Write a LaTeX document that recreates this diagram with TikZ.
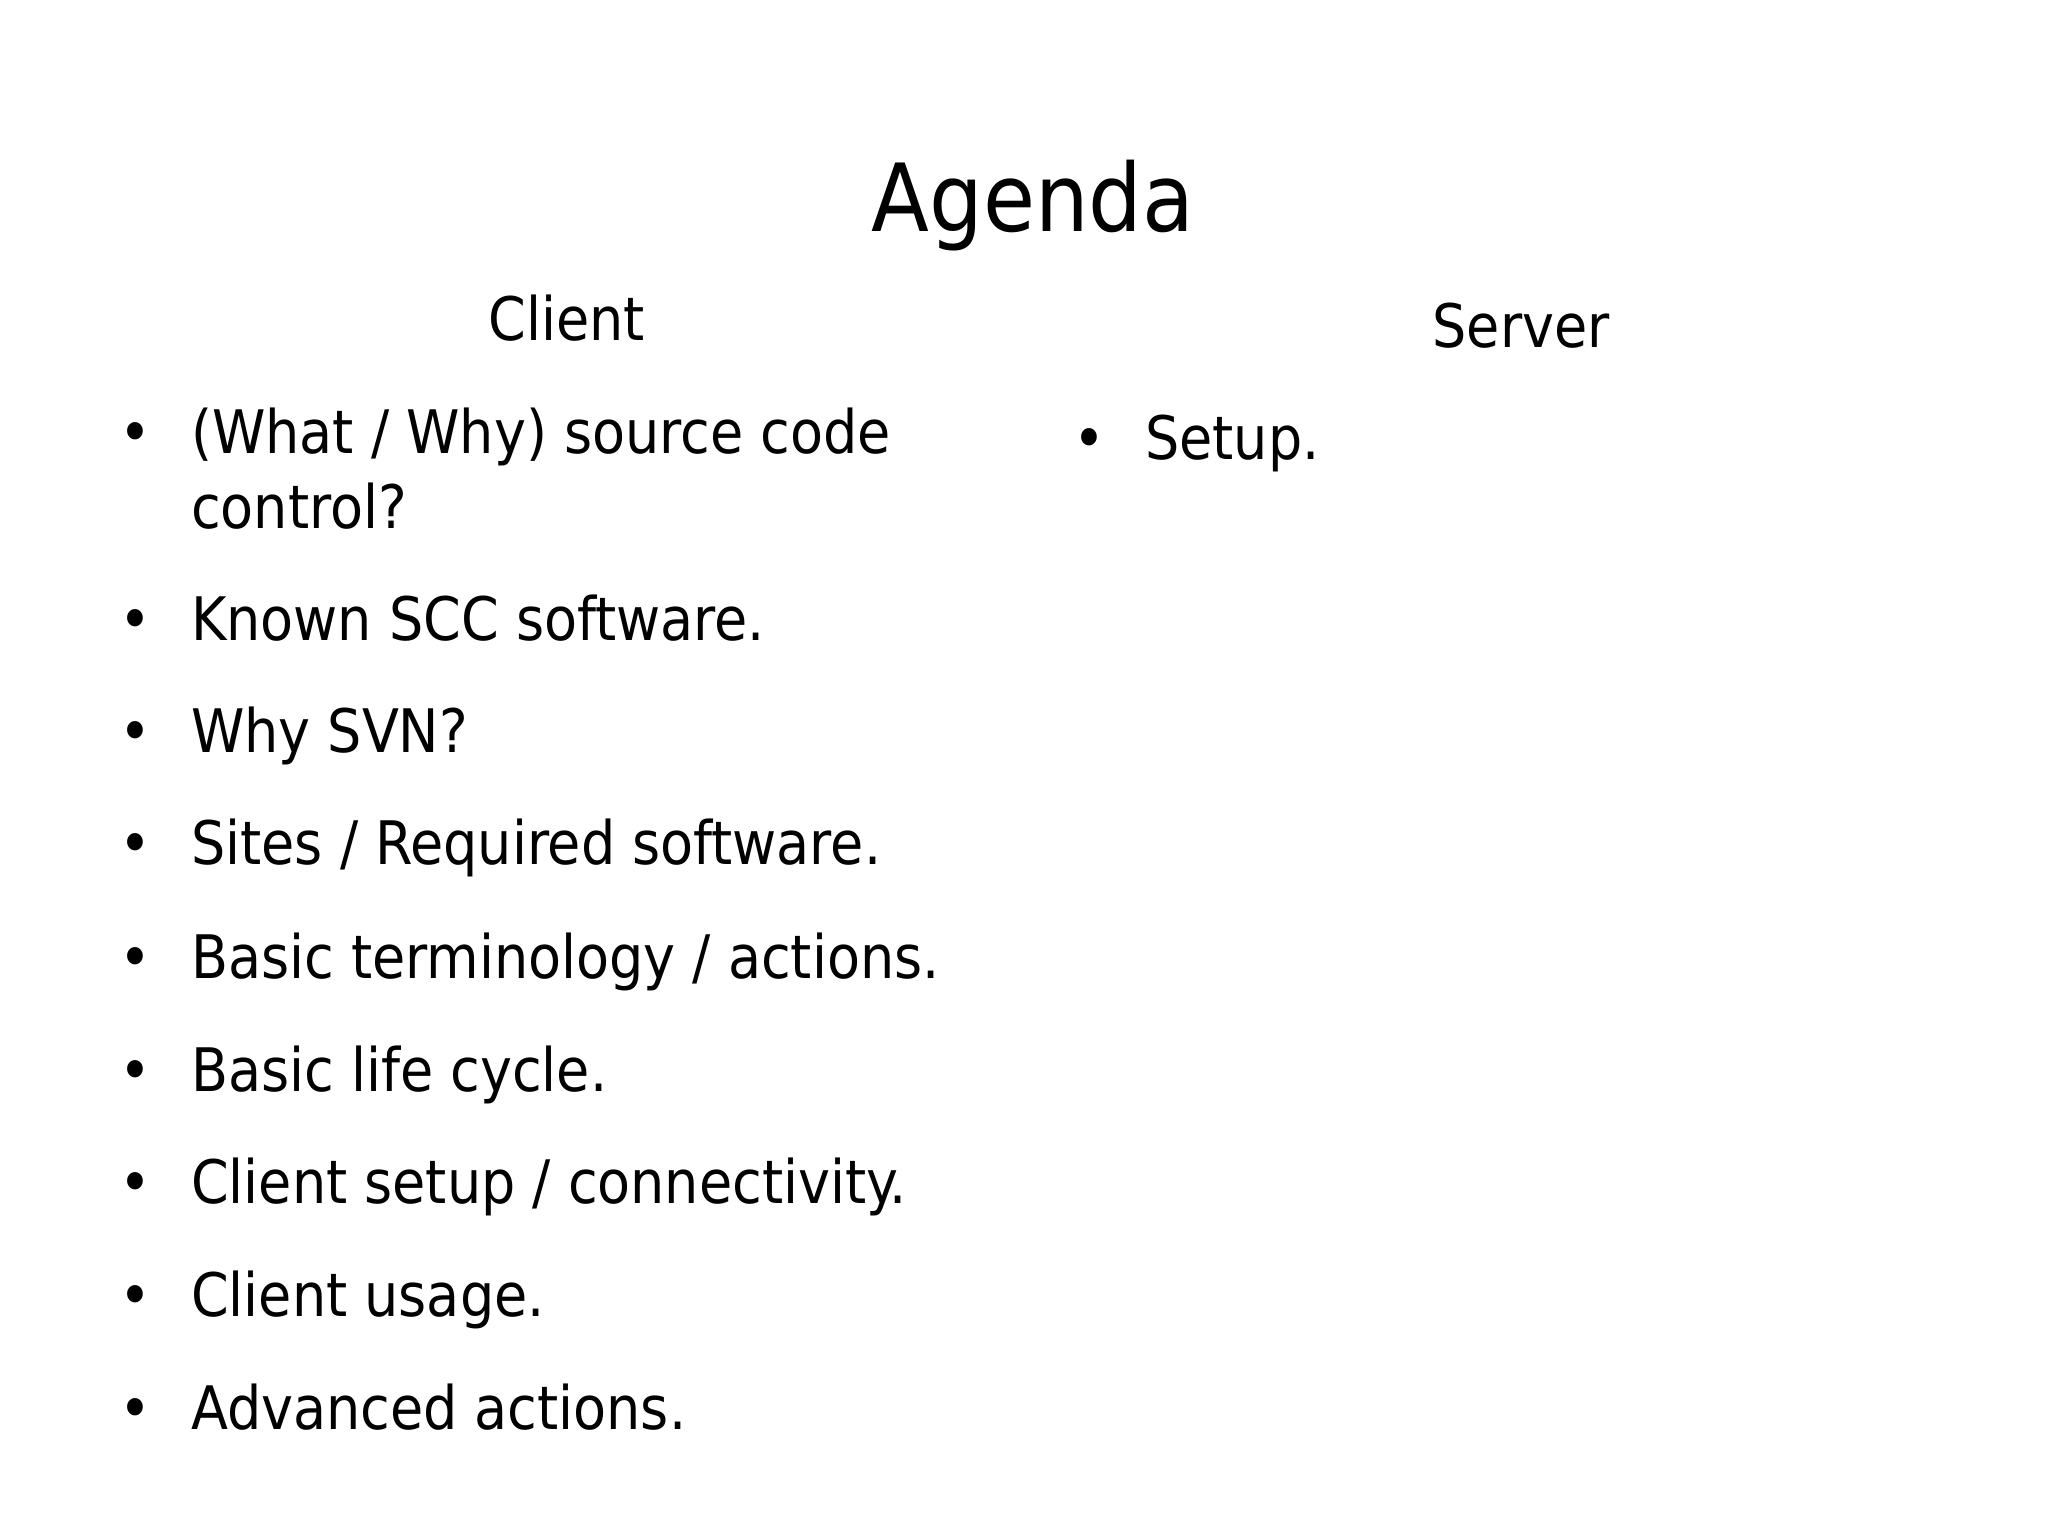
\documentclass[tikz,border=0pt]{standalone}
\usepackage{fontspec}
\setmainfont{DejaVu Sans Condensed}
\begin{document}
\begin{tikzpicture}[x=1pt,y=-1pt,
  txt/.style={anchor=base west,inner sep=0pt,font=\fontsize{60}{72}\selectfont},
  bul/.style={anchor=base,inner sep=0pt,font=\fontsize{60}{72}\selectfont},
  head/.style={anchor=base,inner sep=0pt,font=\fontsize{60}{72}\selectfont}]
\useasboundingbox (0,0) rectangle (2048,1535);
\node[anchor=base,inner sep=0pt,font=\fontsize{94}{110}\selectfont] (title) at (1033,231) {Agenda};
\node[head] (client) at (567,340) {Client};
\node[head] (server) at (1521,347) {Server};
\foreach \n/\y/\t in {1/453/{(What / Why) source code},3/640/{Known SCC software.},4/752/{Why SVN?},5/864/{Sites / Required software.},6/978/{Basic terminology / actions.},7/1091/{Basic life cycle.},8/1203/{Client setup / connectivity.},9/1316/{Client usage.},10/1429/{Advanced actions.}}{
  \node[bul] (b\n) at (135,\y) {•};
  \node[txt] (t\n) at (191,\y) {\t};
}
\node[txt] (t2) at (191,528) {control?};
\node[bul] (sb) at (1089,459) {•};
\node[txt] (st) at (1145,459) {Setup.};
\end{tikzpicture}
\end{document}
